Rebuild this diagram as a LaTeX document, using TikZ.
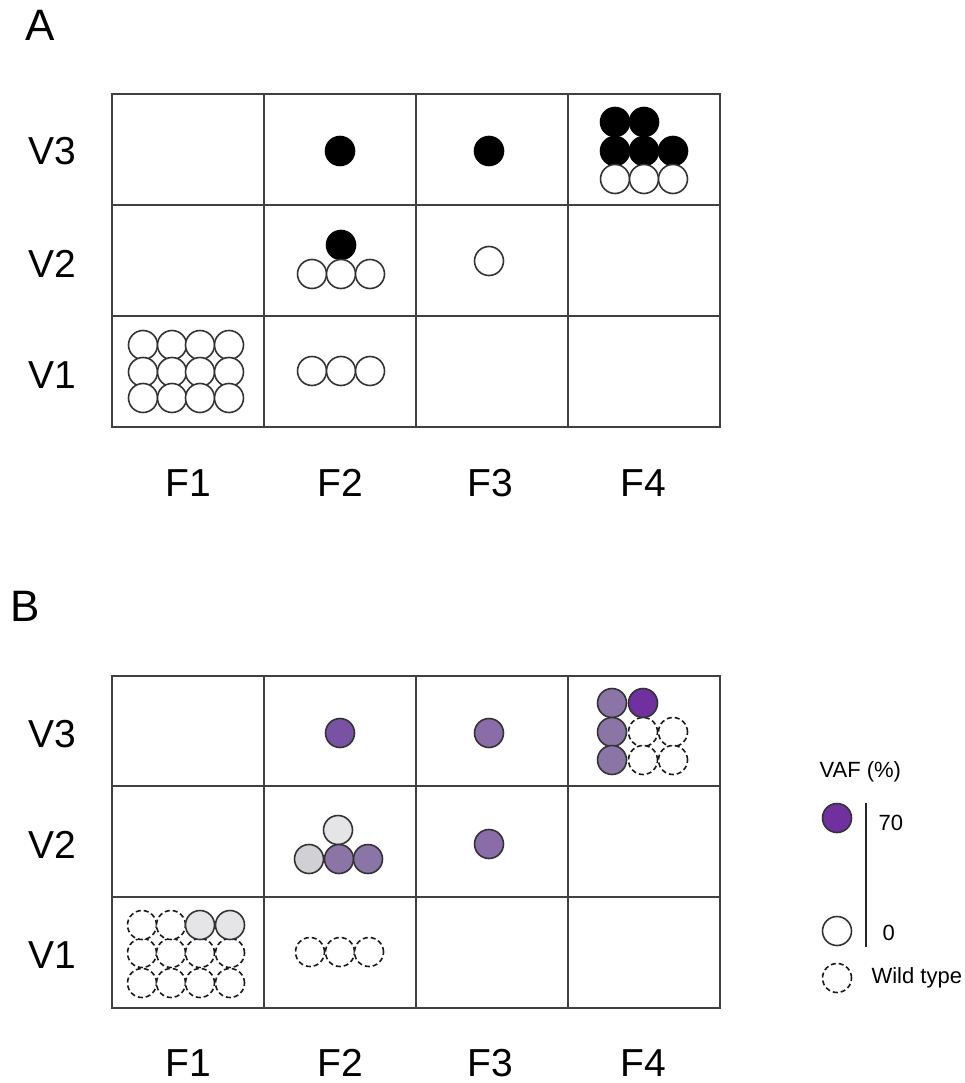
\documentclass[tikz,border=0pt]{standalone}
\usepackage{fontspec}
\setmainfont{Liberation Sans}
\begin{document}
\begin{tikzpicture}[x=1pt,y=-1pt,
  gridline/.style={draw=black!75,line width=1.6pt},
  dot/.style={circle,draw=black!80,line width=1.6pt,minimum size=29pt,inner sep=0pt,fill=white},
  blk/.style={dot,fill=black,draw=black},
  wt/.style={dot,dashed,dash pattern=on 5pt off 3pt,draw=black!90},
  big/.style={font=\fontsize{39}{39}\selectfont},
  panel/.style={font=\fontsize{44}{44}\selectfont},
  leg/.style={font=\fontsize{22}{22}\selectfont}]
\definecolor{pA}{HTML}{7030A0}
\definecolor{pB}{HTML}{7A52A3}
\definecolor{pC}{HTML}{8A6CA8}
\definecolor{pD}{HTML}{8B74A6}
\definecolor{gA}{HTML}{D1D1D5}
\definecolor{gB}{HTML}{E5E5E8}
\useasboundingbox (0,0) rectangle (964,1083);

% ---------- Panel A ----------
\node[panel] (labA) at (40,25) {A};
\draw[gridline] (112,94) rectangle (720,427);
\foreach \x in {264,416,568} \draw[gridline] (\x,94) -- (\x,427);
\foreach \y in {205,316} \draw[gridline] (112,\y) -- (720,\y);
\node[big] (aV3) at (52,151) {V3};
\node[big] (aV2) at (52,264) {V2};
\node[big] (aV1) at (52,375) {V1};
\node[big] (aF1) at (188,483) {F1};
\node[big] (aF2) at (340,483) {F2};
\node[big] (aF3) at (490,483) {F3};
\node[big] (aF4) at (643,483) {F4};
% V3
\node[blk] (a23) at (340,151) {};
\node[blk] (a33) at (489,151) {};
\foreach \x/\y [count=\i] in {615/122,644/122,615/151,644/151,673/151}
  \node[blk] (a43b\i) at (\x,\y) {};
\foreach \x [count=\i] in {615,644,673}
  \node[dot] (a43w\i) at (\x,179) {};
% V2
\node[blk] (a22b) at (341,245) {};
\foreach \x [count=\i] in {312,341,370}
  \node[dot] (a22w\i) at (\x,274) {};
\node[dot] (a32) at (489,261) {};
% V1
\foreach \y [count=\j] in {345,372,398}
  \foreach \x [count=\i] in {143,172,200,229}
    \node[dot] (a11-\i-\j) at (\x,\y) {};
\foreach \x [count=\i] in {312,341,370}
  \node[dot] (a21w\i) at (\x,371) {};

% ---------- Panel B ----------
\node[panel] (labB) at (25,606) {B};
\draw[gridline] (112,676) rectangle (720,1008);
\foreach \x in {264,416,568} \draw[gridline] (\x,676) -- (\x,1008);
\foreach \y in {786,897} \draw[gridline] (112,\y) -- (720,\y);
\node[big] (bV3) at (52,734) {V3};
\node[big] (bV2) at (52,845) {V2};
\node[big] (bV1) at (52,955) {V1};
\node[big] (bF1) at (188,1063) {F1};
\node[big] (bF2) at (340,1063) {F2};
\node[big] (bF3) at (490,1063) {F3};
\node[big] (bF4) at (643,1063) {F4};
% V3
\node[dot,fill=pB] (b23) at (340,733) {};
\node[dot,fill=pC] (b33) at (489,733) {};
\node[wt] (b43w1) at (643,732) {};
\node[wt] (b43w2) at (673,732) {};
\node[wt] (b43w3) at (643,760) {};
\node[wt] (b43w4) at (673,760) {};
\node[dot,fill=pD] (b43a) at (612,703) {};
\node[dot,fill=pA] (b43b) at (643,703) {};
\node[dot,fill=pD] (b43c) at (612,732) {};
\node[dot,fill=pD] (b43d) at (612,760) {};
% V2
\node[dot,fill=gB] (b22t) at (338,830) {};
\node[dot,fill=gA] (b22a) at (309,859) {};
\node[dot,fill=pD] (b22b) at (339,859) {};
\node[dot,fill=pD] (b22c) at (368,859) {};
\node[dot,fill=pC] (b32) at (489,844) {};
% V1
\foreach \y [count=\j] in {953,983}
  \foreach \x [count=\i] in {142,171,200,230}
    \node[wt] (b11-\i-\j) at (\x,\y) {};
\node[wt] (b11-1-0) at (142,925) {};
\node[wt] (b11-2-0) at (171,925) {};
\node[dot,fill=gB] (b11-3-0) at (200,925) {};
\node[dot,fill=gB] (b11-4-0) at (230,925) {};
\foreach \x [count=\i] in {310,340,369}
  \node[wt] (b21w\i) at (\x,952) {};

% ---------- Legend ----------
\node[leg,anchor=west] (vaf) at (816,772) {VAF (\%)};
\node[dot,fill=pA] (lhi) at (837,818) {};
\node[dot] (llo) at (837,931) {};
\node[wt] (lwt) at (837,978) {};
\coordinate (barT) at (866,803);
\coordinate (barB) at (866,947);
\draw[line width=1.6pt,black!85] (barT) -- (barB);
\node[leg,anchor=west] (l70) at (875,823) {70};
\node[leg,anchor=west] (l0) at (879,933) {0};
\node[leg,anchor=west] (lwtt) at (868,978) {Wild type};
\end{tikzpicture}
\end{document}
